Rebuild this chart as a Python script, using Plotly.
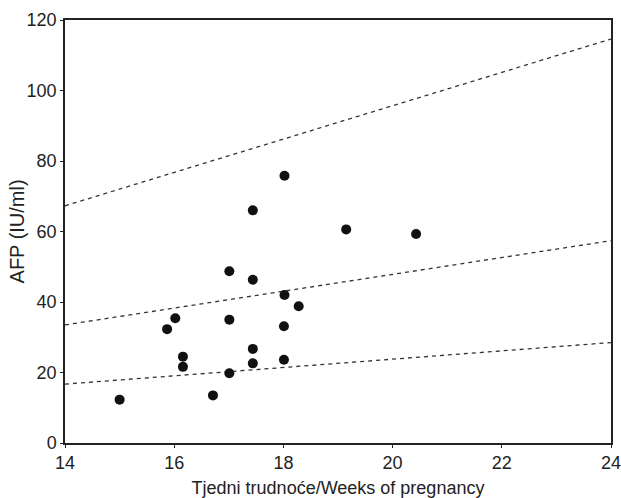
import plotly.graph_objects as go

# Data
weeks = [15.0, 15.87, 16.02, 16.16, 16.16, 18.02, 17.44, 19.15, 17.01, 17.44,
         18.02, 18.28, 17.01, 18.01, 17.44, 17.44, 18.01, 17.01, 16.71, 20.43]
afp = [12.3, 32.3, 35.4, 24.5, 21.6, 75.8, 66.0, 60.6, 48.7, 46.3,
       42.0, 38.8, 35.0, 33.1, 26.7, 22.6, 23.6, 19.8, 13.5, 59.3]
line_x = [14, 24]
median_line = [33.5, 57.4]
upper_line = [67.3, 114.6]
lower_line = [16.7, 28.5]

fig = go.Figure()
for ys in (upper_line, median_line, lower_line):
    fig.add_trace(go.Scatter(x=line_x, y=ys, mode="lines",
                             line=dict(color="#333", width=1.3, dash="4px,4px"),
                             hoverinfo="skip", showlegend=False))
fig.add_trace(go.Scatter(x=weeks, y=afp, mode="markers",
                         marker=dict(color="#111", size=10),
                         showlegend=False))

font = "Liberation Sans, Arial, sans-serif"
fig.update_layout(
    width=621, height=498,
    margin=dict(l=65, r=10, t=20, b=55),
    paper_bgcolor="white", plot_bgcolor="white",
    font=dict(family=font, color="#222"),
    xaxis=dict(range=[14, 24], tickvals=[14, 16, 18, 20, 22, 24],
               showgrid=False, zeroline=False, showline=True, linecolor="#222",
               linewidth=1.5, mirror=True, ticks="outside", ticklen=3,
               tickcolor="#222", tickfont=dict(size=18), automargin=False,
               ticklabeloverflow="allow",
               title=dict(text="Tjedni trudnoće/Weeks of pregnancy",
                          font=dict(size=18), standoff=14)),
    yaxis=dict(range=[0, 120], tickvals=[0, 20, 40, 60, 80, 100, 120],
               showgrid=False, zeroline=False, showline=True, linecolor="#222",
               linewidth=1.5, mirror=True, ticks="outside", ticklen=3,
               tickcolor="#222", tickfont=dict(size=18), automargin=False,
               ticklabeloverflow="allow"),
    annotations=[dict(text="AFP (IU/ml)", textangle=-90, showarrow=False,
                      xref="paper", yref="paper", x=-0.088, y=0.5,
                      xanchor="center", yanchor="middle",
                      font=dict(size=20, family=font, color="#222"))],
)
# remove the page's default body margin so the figure fills the window exactly
fig.write_html("out.html", config={"displayModeBar": False},
               post_script="document.body.style.margin='0';"
                           "document.body.style.overflow='hidden';")
